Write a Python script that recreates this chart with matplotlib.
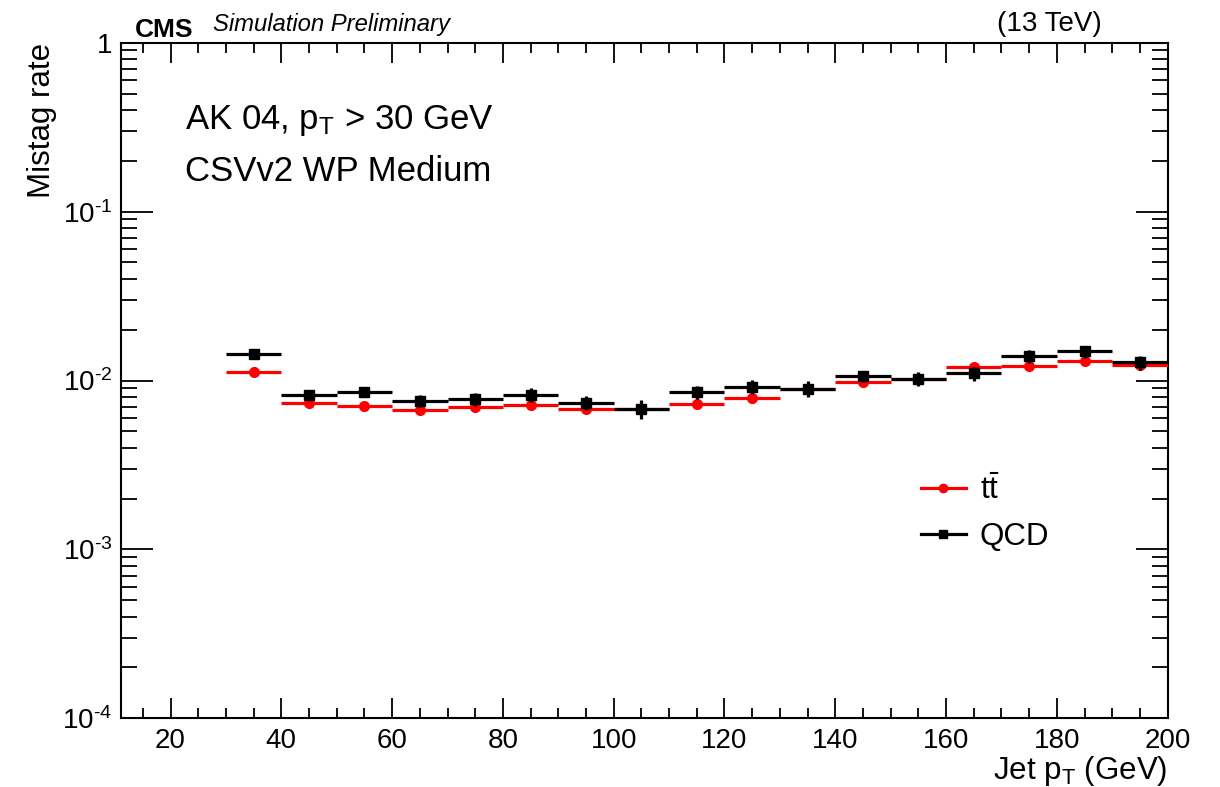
import matplotlib
matplotlib.use("Agg")
import matplotlib.pyplot as plt
import numpy as np
from matplotlib.ticker import FixedLocator, MultipleLocator, LogLocator, NullFormatter
from matplotlib.lines import Line2D

plt.rcParams['font.family'] = ['Liberation Sans', 'DejaVu Sans']
plt.rcParams['mathtext.fontset'] = 'custom'
plt.rcParams['mathtext.rm'] = 'Liberation Sans'
plt.rcParams['mathtext.it'] = 'Liberation Sans:italic'
plt.rcParams['mathtext.bf'] = 'Liberation Sans:bold'

# ---- data ----
bin_centers = [35, 45, 55, 65, 75, 85, 95, 105, 115, 125, 135, 145, 155, 165, 175, 185, 195]
bin_half_width = 5
ttbar_rate = [0.01120, 0.00733, 0.00710, 0.00670, 0.00698, 0.00718, 0.00679, 0.00678,
              0.00730, 0.00789, 0.00890, 0.00977, 0.01021, 0.01199, 0.01216, 0.01297, 0.01240]
ttbar_err = [0.00010, 0.00010, 0.00010, 0.00012, 0.00012, 0.00013, 0.00014, 0.00015,
             0.00016, 0.00018, 0.00020, 0.00022, 0.00025, 0.00030, 0.00032, 0.00035, 0.00038]
qcd_rate = [0.01427, 0.00818, 0.00857, 0.00758, 0.00779, 0.00826, 0.00740, 0.00679,
            0.00852, 0.00918, 0.00893, 0.01060, 0.01023, 0.01105, 0.01394, 0.01486, 0.01279]
qcd_err = [0.00020, 0.00025, 0.00030, 0.00060, 0.00070, 0.00080, 0.00075, 0.00085,
           0.00080, 0.00090, 0.00095, 0.00080, 0.00100, 0.00105, 0.00120, 0.00125, 0.00125]

y_ticks = [1e-4, 1e-3, 1e-2, 1e-1, 1]
y_tick_labels = [r'$10^{\text{-}4}$', r'$10^{\text{-}3}$', r'$10^{\text{-}2}$', r'$10^{\text{-}1}$', '1']
x_ticks = [20, 40, 60, 80, 100, 120, 140, 160, 180, 200]

fig = plt.figure(figsize=(12.2, 7.87), dpi=100)
ax = fig.add_axes([0.0989, 0.0873, 0.9571 - 0.0989, 0.9457 - 0.0873])

ax.errorbar(bin_centers, ttbar_rate, xerr=bin_half_width, yerr=ttbar_err, fmt='o',
            color='#ff0000', ms=7, lw=2.3, capsize=0, zorder=3)
ax.errorbar(bin_centers, qcd_rate, xerr=bin_half_width, yerr=qcd_err, fmt='s',
            color='black', ms=6.5, lw=2.3, capsize=0, zorder=4)

ax.set_yscale('log')
ax.set_xlim(11, 200)
ax.set_ylim(1e-4, 1)

ax.yaxis.set_major_locator(FixedLocator(y_ticks))
ax.set_yticklabels(y_tick_labels)
ax.yaxis.set_minor_locator(LogLocator(base=10, subs=np.arange(2, 10)))
ax.yaxis.set_minor_formatter(NullFormatter())
ax.xaxis.set_major_locator(FixedLocator(x_ticks))
ax.xaxis.set_minor_locator(MultipleLocator(5))

ax.tick_params(which='both', direction='in', top=True, right=True, width=1.3, labelsize=20)
ax.tick_params(axis='x', which='major', length=14.4, pad=7)
ax.tick_params(axis='x', which='minor', length=7.2)
ax.tick_params(axis='y', which='major', length=23, pad=6)
ax.tick_params(axis='y', which='minor', length=11.5)
for s in ax.spines.values():
    s.set_linewidth(1.5)

ax.set_ylabel('Mistag rate', fontsize=22.5, loc='top', labelpad=4)
ax.set_xlabel(r'Jet p$_{\mathrm{T}}$ (GeV)', fontsize=22.5, loc='right', labelpad=0)

ax.text(0.0614, 0.885, r'AK 04, p$_{\mathrm{T}}$ > 30 GeV', transform=ax.transAxes,
        fontsize=25, va='center', ha='left')
ax.text(0.0614, 0.81, 'CSVv2 WP Medium', transform=ax.transAxes,
        fontsize=25, va='center', ha='left')

fig.text(135 / 1220, 1 - 30 / 787, 'CMS', fontsize=19, fontweight='bold', va='center', ha='left')
fig.text(213 / 1220, 1 - 25 / 787, 'Simulation Preliminary', fontsize=17.2, style='italic',
         va='center', ha='left')
fig.text(1102 / 1220, 1 - 24 / 787, '(13 TeV)', fontsize=20, va='center', ha='right')

handles = [Line2D([], [], color='#ff0000', marker='o', ms=6, lw=2.3),
           Line2D([], [], color='black', marker='s', ms=6, lw=2.3)]
labels = [r'$\mathrm{t\bar{t}}$', 'QCD']
ax.legend(handles, labels, loc='upper left', bbox_to_anchor=(0.752, 0.378), frameon=False,
          fontsize=22.5, handlelength=1.45, handletextpad=0.45, labelspacing=0.5, borderaxespad=0)

fig.savefig('out.png', dpi=100)
